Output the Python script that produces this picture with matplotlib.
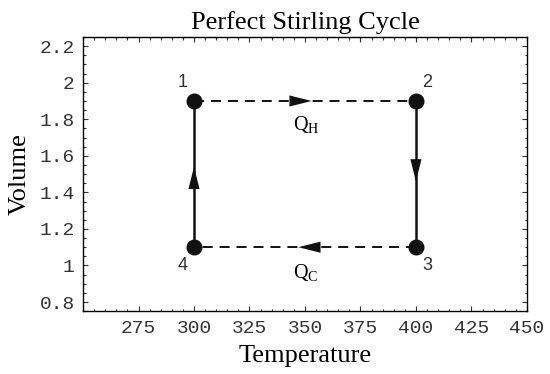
import matplotlib
matplotlib.use("Agg")
import matplotlib.pyplot as plt
from matplotlib.ticker import MultipleLocator

plt.rcParams['mathtext.fontset'] = 'custom'
plt.rcParams['mathtext.rm'] = 'Liberation Serif'
plt.rcParams['lines.scale_dashes'] = False

# state points of the cycle (temperature, volume)
temps = [300, 400, 400, 300]
vols = [1.9, 1.9, 1.1, 1.1]
state_labels = ['1', '2', '3', '4']
# segment i goes from state i to state i+1
seg_styles = ['dashed', 'solid', 'dashed', 'solid']
heat_labels = [r'$\mathrm{Q}_\mathrm{H}$', r'$\mathrm{Q}_\mathrm{C}$']

fig = plt.figure(figsize=(5.5, 3.74), dpi=100)
ax = fig.add_axes([0.151, 0.168, 0.807, 0.733])

for i in range(4):
    j = (i + 1) % 4
    x0, x1 = temps[i], temps[j]
    y0, y1 = vols[i], vols[j]
    if seg_styles[i] == 'dashed':
        ax.plot([x0, x1], [y0, y1], color='#111111', lw=1.4,
                dashes=(7.2, 5.0))
    else:
        ax.plot([x0, x1], [y0, y1], color='#111111', lw=1.8)
    # arrowhead a bit past the middle, pointing along the path
    mx, my = (x0 + x1) / 2, (y0 + y1) / 2
    dx, dy = (x1 - x0), (y1 - y0)
    tip = (mx + 0.03 * dx, my + 0.05 * dy)
    tail = (tip[0] - 0.01 * dx, tip[1] - 0.01 * dy)
    ax.annotate('', xy=tip, xytext=tail,
                arrowprops=dict(arrowstyle='-|>,head_length=1.6,head_width=0.4',
                                color='#111111', lw=0, shrinkA=0, shrinkB=0))

ax.plot(temps, vols, 'o', color='#111111', ms=10.5, zorder=5)

# state numbers
offs = [(-5, 0.1), (5, 0.1), (5, -0.1), (-5, -0.1)]
for t, v, s, (ox, oy) in zip(temps, vols, state_labels, offs):
    ax.text(t + ox, v + oy, s, ha='center', va='center', fontsize=13,
            family='Liberation Sans', color='#333333')

ax.text((temps[0] + temps[1]) / 2 + 0.5, vols[0] - 0.165, heat_labels[0],
        ha='center', va='baseline', fontsize=14.5)
ax.text((temps[2] + temps[3]) / 2 + 0.5, vols[2] - 0.17, heat_labels[1],
        ha='center', va='baseline', fontsize=14.5)

ax.set_xlim(250, 450)
ax.set_ylim(0.75, 2.25)
ax.set_xticks([275, 300, 325, 350, 375, 400, 425, 450])
ax.set_yticks([0.8, 1.0, 1.2, 1.4, 1.6, 1.8, 2.0, 2.2])
ax.set_xticklabels(['275', '300', '325', '350', '375', '400', '425', '450'])
ax.set_yticklabels(['0.8', '1', '1.2', '1.4', '1.6', '1.8', '2', '2.2'])
ax.xaxis.set_minor_locator(MultipleLocator(5))
ax.yaxis.set_minor_locator(MultipleLocator(0.05))
ax.tick_params(which='both', direction='in', top=True, right=True,
               width=0.8, labelsize=14, pad=6, colors='#333333')
ax.tick_params(which='major', length=3.5)
ax.tick_params(which='minor', length=1.8)
for lab in ax.get_xticklabels() + ax.get_yticklabels():
    lab.set_family('Liberation Mono')
for sp in ax.spines.values():
    sp.set_linewidth(1.0)

ax.set_title('Perfect Stirling Cycle', family='Liberation Serif',
             fontsize=19, pad=6)
ax.set_xlabel('Temperature', family='Liberation Serif', fontsize=19,
              labelpad=6)
ax.set_ylabel('Volume', family='Liberation Serif', fontsize=19, labelpad=6)

fig.savefig('out.png', dpi=100)
